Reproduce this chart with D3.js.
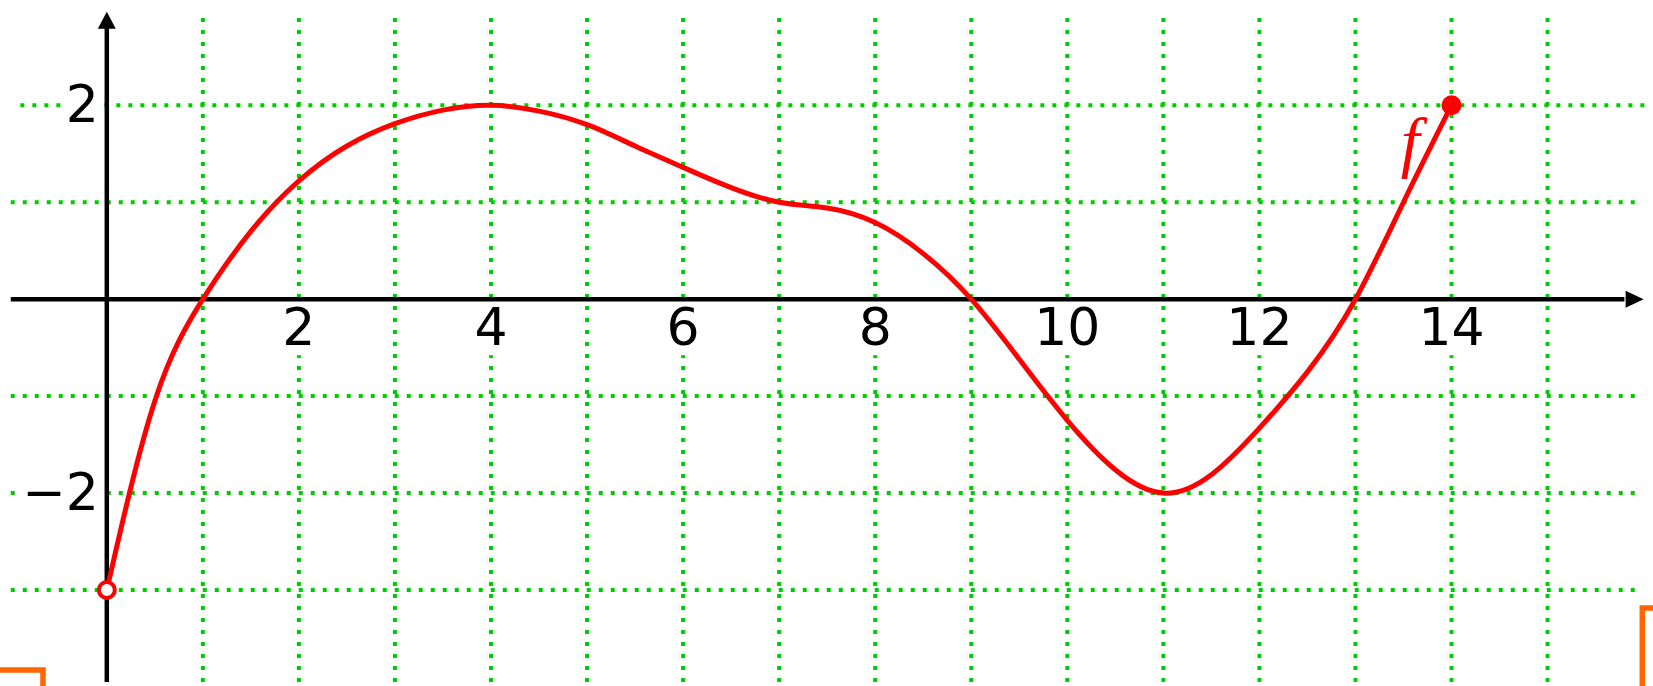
<!DOCTYPE html>
<html>
<head>
  <script src="https://d3js.org/d3.v7.min.js"></script>
  <style>
    body { margin: 0; background: #fff; }
    .grid { stroke: #00cc00; stroke-width: 4; stroke-dasharray: 4 8; fill: none; }
    .axis { stroke: #000; stroke-width: 4.5; fill: none; }
    .lbl { font-family: "DejaVu Sans"; font-size: 52px; fill: #000; }
  </style>
</head>
<body>
  <script>
    // tick labels and grid positions
    var xLabels = [2, 4, 6, 8, 10, 12, 14];
    var yLabels = [2, -2];
    var gridX = [1, 2, 3, 4, 5, 6, 7, 8, 9, 10, 11, 12, 13, 14, 15];
    var gridY = [-3, -2, -1, 1, 2];

    // curve f, every half unit
    var fx = [0, 0.5, 1, 1.5, 2, 2.5, 3, 3.5, 4, 4.5, 5, 5.5, 6, 6.5, 7, 7.5, 8, 8.5, 9, 9.5, 10, 10.5, 11, 11.5, 12, 12.5, 13, 13.5, 14];
    var fy = [-3, -1.05, 0, 0.7, 1.22, 1.58, 1.81, 1.95, 2, 1.94, 1.8, 1.58, 1.36, 1.15, 1, 0.94, 0.79, 0.47, 0, -0.62, -1.25, -1.76, -2, -1.81, -1.33, -0.75, 0, 1, 2];

    var W = 1653, H = 686;
    var x = d3.scaleLinear().domain([-1, 16]).range([10.75, 1643.6]);
    var y = d3.scaleLinear().domain([-3, 2]).range([590, 105.3]);

    var svg = d3.select("body").append("svg")
      .attr("width", W)
      .attr("height", H);

    // grid
    svg.selectAll(".gx").data(gridX).enter().append("line")
      .attr("class", "grid")
      .attr("x1", d => x(d)).attr("x2", d => x(d))
      .attr("y1", y(2.9)).attr("y2", y(-3.95));
    svg.selectAll(".gy").data(gridY).enter().append("line")
      .attr("class", "grid")
      .attr("x1", d => d === 2 ? x(-0.9) : x(-1)).attr("x2", d => d === 2 ? x(16.05) : x(15.95))
      .attr("y1", d => y(d)).attr("y2", d => y(d));

    // labels with white boxes
    function addLabel(tx, ty, txt, anchor) {
      var g = svg.append("g");
      var t = g.append("text")
        .attr("class", "lbl")
        .attr("x", tx).attr("y", ty)
        .attr("text-anchor", anchor)
        .text(txt);
      var b = t.node().getBBox();
      g.insert("rect", "text")
        .attr("x", b.x - 3).attr("y", b.y + 6)
        .attr("width", b.width + 6).attr("height", b.height - 8)
        .attr("fill", "#fff");
    }
    xLabels.forEach(function (d) {
      addLabel(x(d), y(0) + 46, d, "middle");
    });
    yLabels.forEach(function (d) {
      addLabel(x(0) - 8, y(d) + 17, d < 0 ? "\u2212" + (-d) : d, "end");
    });

    // axes
    svg.append("line").attr("class", "axis")
      .attr("x1", x(-1)).attr("x2", x(15.8))
      .attr("y1", y(0)).attr("y2", y(0));
    svg.append("path")
      .attr("d", "M" + x(16) + "," + y(0) + " L" + (x(16) - 18) + "," + (y(0) - 8.5) +
        " L" + (x(16) - 18) + "," + (y(0) + 8.5) + "Z")
      .attr("fill", "#000");
    svg.append("line").attr("class", "axis")
      .attr("x1", x(0)).attr("x2", x(0))
      .attr("y1", y(-3.95)).attr("y2", y(2.8));
    svg.append("path")
      .attr("d", "M" + x(0) + "," + y(2.965) + " L" + (x(0) - 9) + "," + (y(2.965) + 17) +
        " L" + (x(0) + 9) + "," + (y(2.965) + 17) + "Z")
      .attr("fill", "#000");

    // curve
    var pts = d3.zip(fx, fy);
    var line = d3.line()
      .x(d => x(d[0]))
      .y(d => y(d[1]))
      .curve(d3.curveNatural);
    svg.append("path")
      .datum(pts)
      .attr("d", line)
      .attr("fill", "none")
      .attr("stroke", "#ff0000")
      .attr("stroke-width", 5);

    var first = pts[0], last = pts[pts.length - 1];
    svg.append("circle")
      .attr("cx", x(first[0])).attr("cy", y(first[1]))
      .attr("r", 8)
      .attr("fill", "#fff").attr("stroke", "#ff0000").attr("stroke-width", 4);
    svg.append("circle")
      .attr("cx", x(last[0])).attr("cy", y(last[1]))
      .attr("r", 10)
      .attr("fill", "#ff0000");

    svg.append("text")
      .attr("x", x(13.57)).attr("y", y(1.38))
      .attr("text-anchor", "middle")
      .attr("font-family", "Liberation Serif")
      .attr("font-style", "italic")
      .attr("font-size", 68)
      .attr("fill", "#ff0000")
      .text("f");

    // orange corner marks at the bottom edge
    svg.append("path")
      .attr("d", "M0,670 H43 V" + H)
      .attr("fill", "none").attr("stroke", "#ff6600").attr("stroke-width", 5.5);
    svg.append("path")
      .attr("d", "M" + W + ",608 H1642.3 V" + H)
      .attr("fill", "none").attr("stroke", "#ff6600").attr("stroke-width", 5.5);
  </script>
</body>
</html>
